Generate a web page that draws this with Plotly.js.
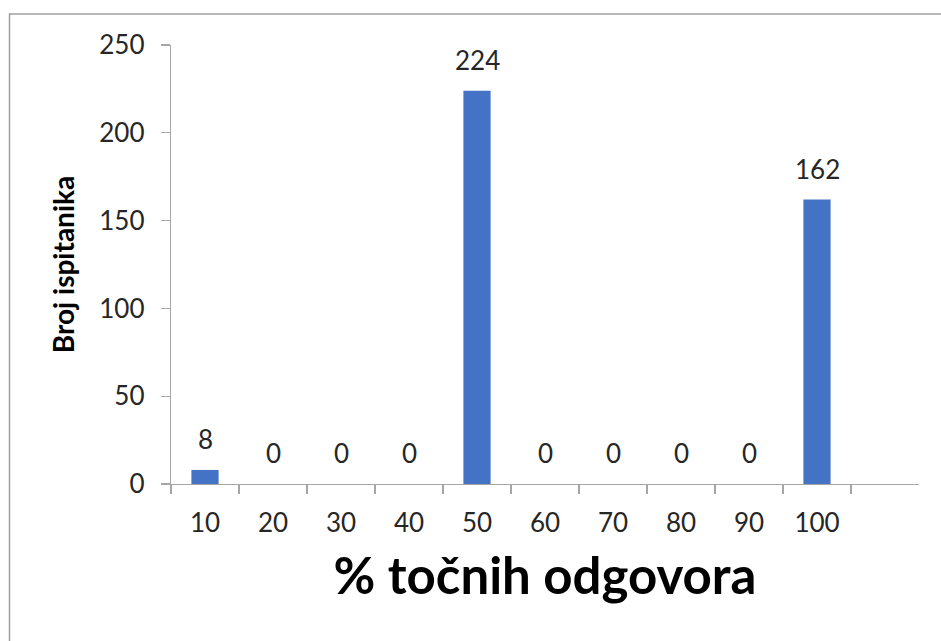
<!DOCTYPE html>
<html>
<head>
<meta charset="utf-8">
<script src="https://cdn.plot.ly/plotly-3.0.1.min.js"></script>
<style>html,body{margin:0;padding:0;background:#fff;}#chart{width:941px;height:641px;}</style>
</head>
<body>
<div id="chart"></div>
<script>
const categories = ['10','20','30','40','50','60','70','80','90','100'];
const counts = [8, 0, 0, 0, 224, 0, 0, 0, 0, 162];
const yTicks = [0, 50, 100, 150, 200, 250];
const xTitle = '% točnih odgovora';
const yTitle = 'Broj ispitanika';

const tickFont = {family: 'Lato, "Open Sans", sans-serif', size: 26, color: '#262626'};

const trace = {
  type: 'bar',
  x: categories,
  y: counts,
  marker: {color: '#4472C4'},
  hoverinfo: 'x+y'
};

// annotation x on a category axis is given as the category index
const annotations = categories.map((c, i) => ({
  x: i, y: counts[i], xref: 'x', yref: 'y',
  text: String(counts[i]), showarrow: false,
  yanchor: 'bottom', yshift: 13,
  font: tickFont
}));

const layout = {
  width: 941, height: 641,
  margin: {l: 171, r: 22, t: 45, b: 157},
  paper_bgcolor: '#ffffff', plot_bgcolor: '#ffffff',
  bargap: 0.6,
  showlegend: false,
  xaxis: {
    type: 'category',
    categoryorder: 'array', categoryarray: categories,
    range: [-0.5, 10.5],
    tickson: 'boundaries',
    ticks: 'outside', ticklen: 9, tickcolor: '#a6a6a6', tickwidth: 1.3,
    showline: true, linecolor: '#a6a6a6', linewidth: 1.3,
    showgrid: false, zeroline: false,
    tickfont: tickFont,
    ticklabelstandoff: 15,
    title: {text: xTitle, standoff: 21, font: {family: 'Lato, "Open Sans", sans-serif', size: 51, color: '#000', weight: 'bold'}},
    fixedrange: true
  },
  yaxis: {
    range: [0, 250],
    tickvals: yTicks,
    ticks: 'outside', ticklen: 9, tickcolor: '#a6a6a6', tickwidth: 1.3,
    showline: true, linecolor: '#a6a6a6', linewidth: 1.3,
    showgrid: false, zeroline: false,
    tickfont: tickFont,
    ticklabelstandoff: 11,
    title: {text: yTitle, standoff: 16, font: {family: 'Lato, "Open Sans", sans-serif', size: 28, color: '#000', weight: 'bold'}},
    fixedrange: true
  },
  annotations: annotations,
  shapes: [{
    type: 'rect', xref: 'paper', yref: 'paper',
    x0: (9.5 - 171) / 748, x1: 1.2,
    y0: -0.6, y1: (484 - 14.5) / 438.6,
    line: {color: '#a0a0a0', width: 1.5},
    layer: 'below'
  }]
};

Plotly.newPlot('chart', [trace], layout, {displayModeBar: false, staticPlot: true});
</script>
</body>
</html>
